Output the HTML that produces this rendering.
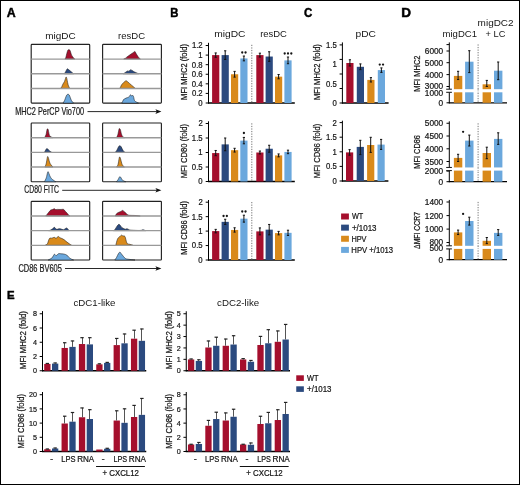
<!DOCTYPE html>
<html><head><meta charset="utf-8"><style>
html,body{margin:0;padding:0;background:#fff;width:520px;height:485px;overflow:hidden}
svg{display:block;font-family:"Liberation Sans", sans-serif} text{stroke:#151515;stroke-width:0.22px} svg{will-change:transform}
</style></head><body>
<svg width="520" height="485" viewBox="0 0 520 485">
<rect width="520" height="485" fill="#fff"/>
<rect x="0.5" y="0.5" width="519" height="484" fill="none" stroke="#000" stroke-width="1"/>
<text x="6.69" y="16.50" font-size="12.06" font-weight="bold" style="stroke:#000;stroke-width:0.45px" fill="#000" textLength="8.93" lengthAdjust="spacingAndGlyphs">A</text>
<text x="170.24" y="16.60" font-size="12.21" font-weight="bold" style="stroke:#000;stroke-width:0.45px" fill="#000" textLength="8.17" lengthAdjust="spacingAndGlyphs">B</text>
<text x="303.93" y="16.90" font-size="12.35" font-weight="bold" style="stroke:#000;stroke-width:0.45px" fill="#000" textLength="8.28" lengthAdjust="spacingAndGlyphs">C</text>
<text x="401.39" y="16.90" font-size="12.06" font-weight="bold" style="stroke:#000;stroke-width:0.45px" fill="#000" textLength="9.77" lengthAdjust="spacingAndGlyphs">D</text>
<text x="7.04" y="298.70" font-size="11.63" font-weight="bold" style="stroke:#000;stroke-width:0.45px" fill="#000" textLength="7.61" lengthAdjust="spacingAndGlyphs">E</text>
<text x="45.19" y="39.20" font-size="9.59" style="stroke:none" fill="#151515" textLength="30.39" lengthAdjust="spacingAndGlyphs">migDC</text>
<text x="118.07" y="39.20" font-size="9.59" style="stroke:none" fill="#151515" textLength="27.00" lengthAdjust="spacingAndGlyphs">resDC</text>
<rect x="31.2" y="44.4" width="58.50" height="58.72" rx="0.8" fill="#fff" stroke="#222" stroke-width="1.15"/>
<path d="M64.90,59.08 L64.90,59.08 C65.06,58.81 65.46,58.57 65.80,57.58 C66.14,56.59 66.44,54.89 66.80,53.58 C67.16,52.27 67.44,50.98 67.80,50.28 C68.16,49.58 68.44,49.72 68.80,49.68 C69.16,49.64 69.48,49.65 69.80,50.08 C70.12,50.51 70.29,51.22 70.60,52.08 C70.91,52.94 71.16,54.09 71.50,54.88 C71.84,55.67 72.14,55.90 72.50,56.48 C72.86,57.06 73.09,57.61 73.50,58.08 C73.91,58.55 74.57,58.90 74.80,59.08 L74.80,59.08 Z" fill="#a50f2d" stroke="#1a1a1a" stroke-width="0.55" stroke-linejoin="round"/>
<line x1="31.20" y1="59.08" x2="89.70" y2="59.08" stroke="#999" stroke-width="1.4" />
<path d="M64.30,73.76 L64.30,73.76 C64.52,73.44 65.10,72.64 65.50,71.96 C65.90,71.28 66.16,70.54 66.50,69.96 C66.84,69.38 67.04,68.83 67.40,68.76 C67.76,68.69 68.03,69.20 68.50,69.56 C68.97,69.92 69.46,70.33 70.00,70.76 C70.54,71.19 70.85,71.42 71.50,71.96 C72.15,72.50 73.22,73.44 73.60,73.76 L73.60,73.76 Z" fill="#2b4a7f" stroke="#1a1a1a" stroke-width="0.55" stroke-linejoin="round"/>
<line x1="31.20" y1="73.76" x2="89.70" y2="73.76" stroke="#999" stroke-width="1.4" />
<path d="M60.60,88.44 L60.60,88.44 C60.82,88.12 61.37,87.45 61.80,86.64 C62.23,85.83 62.51,84.88 63.00,83.94 C63.49,83.00 64.05,82.43 64.50,81.44 C64.95,80.45 65.21,79.25 65.50,78.44 C65.79,77.63 65.87,76.94 66.10,76.94 C66.33,76.94 66.53,77.45 66.80,78.44 C67.07,79.43 67.29,81.09 67.60,82.44 C67.91,83.79 68.09,84.86 68.50,85.94 C68.91,87.02 69.61,87.99 69.85,88.44 L69.85,88.44 Z" fill="#d98a1b" stroke="#1a1a1a" stroke-width="0.55" stroke-linejoin="round"/>
<line x1="31.20" y1="88.44" x2="89.70" y2="88.44" stroke="#999" stroke-width="1.4" />
<path d="M63.00,103.12 L63.00,103.12 C63.27,102.67 64.00,101.70 64.50,100.62 C65.00,99.54 65.39,98.15 65.80,97.12 C66.21,96.09 66.40,95.42 66.80,94.92 C67.20,94.42 67.57,94.32 68.00,94.32 C68.43,94.32 68.79,94.33 69.20,94.92 C69.61,95.51 69.89,96.59 70.30,97.62 C70.71,98.65 70.91,99.63 71.50,100.62 C72.09,101.61 73.22,102.67 73.60,103.12 L73.60,103.12 Z" fill="#6ba8dd" stroke="#1a1a1a" stroke-width="0.55" stroke-linejoin="round"/>
<rect x="102.6" y="44.4" width="58.80" height="58.72" rx="0.8" fill="#fff" stroke="#222" stroke-width="1.15"/>
<path d="M123.70,59.08 L123.70,59.08 C124.02,58.92 124.91,58.58 125.50,58.18 C126.09,57.78 126.37,57.37 127.00,56.88 C127.63,56.39 128.28,55.98 129.00,55.48 C129.72,54.98 130.28,54.57 131.00,54.08 C131.72,53.59 132.32,53.25 133.00,52.78 C133.68,52.31 134.33,51.52 134.80,51.48 C135.27,51.44 135.20,51.93 135.60,52.58 C136.00,53.23 136.39,54.13 137.00,55.08 C137.61,56.03 138.39,57.16 139.00,57.88 C139.61,58.60 140.15,58.86 140.40,59.08 L140.40,59.08 Z" fill="#a50f2d" stroke="#1a1a1a" stroke-width="0.55" stroke-linejoin="round"/>
<line x1="102.60" y1="59.08" x2="161.40" y2="59.08" stroke="#999" stroke-width="1.4" />
<path d="M123.40,73.76 L123.40,73.76 C123.65,73.60 124.33,73.18 124.80,72.86 C125.27,72.54 125.51,72.30 126.00,71.96 C126.49,71.62 127.00,71.10 127.50,70.96 C128.00,70.82 128.35,71.30 128.80,71.16 C129.25,71.02 129.62,70.43 130.00,70.16 C130.38,69.89 130.54,69.59 130.90,69.66 C131.26,69.73 131.68,70.36 132.00,70.56 C132.32,70.76 132.41,70.60 132.70,70.76 C132.99,70.92 133.26,71.24 133.60,71.46 C133.94,71.68 134.08,71.71 134.60,71.96 C135.12,72.21 135.80,72.54 136.50,72.86 C137.20,73.18 138.14,73.60 138.50,73.76 L138.50,73.76 Z" fill="#2b4a7f" stroke="#1a1a1a" stroke-width="0.55" stroke-linejoin="round"/>
<line x1="102.60" y1="73.76" x2="161.40" y2="73.76" stroke="#999" stroke-width="1.4" />
<path d="M119.70,88.44 L119.70,88.44 C119.86,88.17 120.28,87.57 120.60,86.94 C120.92,86.31 120.98,85.71 121.50,84.94 C122.02,84.17 122.83,83.31 123.50,82.64 C124.17,81.97 124.73,81.58 125.20,81.24 C125.67,80.90 125.69,80.67 126.10,80.74 C126.51,80.81 126.89,81.15 127.50,81.64 C128.11,82.13 128.78,82.81 129.50,83.44 C130.22,84.07 130.78,84.53 131.50,85.14 C132.22,85.75 132.80,86.25 133.50,86.84 C134.20,87.43 135.06,88.15 135.40,88.44 L135.40,88.44 Z" fill="#d98a1b" stroke="#1a1a1a" stroke-width="0.55" stroke-linejoin="round"/>
<line x1="102.60" y1="88.44" x2="161.40" y2="88.44" stroke="#999" stroke-width="1.4" />
<path d="M121.80,103.12 L121.80,103.12 C121.96,102.80 122.39,101.95 122.70,101.32 C123.01,100.69 123.12,100.07 123.50,99.62 C123.88,99.17 124.35,99.09 124.80,98.82 C125.25,98.55 125.51,98.34 126.00,98.12 C126.49,97.90 126.96,97.84 127.50,97.62 C128.04,97.40 128.46,97.44 129.00,96.92 C129.54,96.40 130.05,94.92 130.50,94.72 C130.95,94.52 131.05,95.68 131.50,95.82 C131.95,95.96 132.59,95.20 133.00,95.52 C133.41,95.84 133.53,96.72 133.80,97.62 C134.07,98.52 134.01,99.71 134.50,100.52 C134.99,101.33 135.78,101.65 136.50,102.12 C137.22,102.59 138.14,102.94 138.50,103.12 L138.50,103.12 Z" fill="#6ba8dd" stroke="#1a1a1a" stroke-width="0.55" stroke-linejoin="round"/>
<rect x="31.2" y="123.0" width="58.50" height="58.72" rx="0.8" fill="#fff" stroke="#222" stroke-width="1.15"/>
<path d="M44.50,137.68 L44.50,137.68 C44.77,137.14 45.55,136.12 46.00,134.68 C46.45,133.24 46.73,130.72 47.00,129.68 C47.27,128.64 47.28,128.88 47.50,128.88 C47.72,128.88 47.93,128.82 48.20,129.68 C48.47,130.54 48.68,132.51 49.00,133.68 C49.32,134.85 49.28,135.46 50.00,136.18 C50.72,136.90 52.46,137.41 53.00,137.68 L53.00,137.68 Z" fill="#a50f2d" stroke="#1a1a1a" stroke-width="0.55" stroke-linejoin="round"/>
<line x1="31.20" y1="137.68" x2="89.70" y2="137.68" stroke="#999" stroke-width="1.4" />
<path d="M44.50,152.36 L44.50,152.36 C44.68,152.00 45.09,151.04 45.50,150.36 C45.91,149.68 46.35,148.74 46.80,148.56 C47.25,148.38 47.51,148.95 48.00,149.36 C48.49,149.77 48.83,150.32 49.50,150.86 C50.17,151.40 51.30,152.09 51.70,152.36 L51.70,152.36 Z" fill="#2b4a7f" stroke="#1a1a1a" stroke-width="0.55" stroke-linejoin="round"/>
<line x1="31.20" y1="152.36" x2="89.70" y2="152.36" stroke="#999" stroke-width="1.4" />
<path d="M44.90,167.04 L44.90,167.04 C45.13,166.41 45.77,165.25 46.20,163.54 C46.63,161.83 46.99,158.78 47.30,157.54 C47.61,156.30 47.67,156.46 47.90,156.64 C48.13,156.82 48.31,157.57 48.60,158.54 C48.89,159.51 49.10,160.96 49.50,162.04 C49.90,163.12 50.17,163.64 50.80,164.54 C51.43,165.44 52.60,166.59 53.00,167.04 L53.00,167.04 Z" fill="#d98a1b" stroke="#1a1a1a" stroke-width="0.55" stroke-linejoin="round"/>
<line x1="31.20" y1="167.04" x2="89.70" y2="167.04" stroke="#999" stroke-width="1.4" />
<path d="M44.50,181.72 L44.50,181.72 C44.82,181.00 45.76,179.34 46.30,177.72 C46.84,176.10 47.16,173.80 47.50,172.72 C47.84,171.64 47.93,171.54 48.20,171.72 C48.47,171.90 48.59,172.73 49.00,173.72 C49.41,174.71 49.87,176.18 50.50,177.22 C51.13,178.26 51.56,178.71 52.50,179.52 C53.44,180.33 55.12,181.32 55.70,181.72 L55.70,181.72 Z" fill="#6ba8dd" stroke="#1a1a1a" stroke-width="0.55" stroke-linejoin="round"/>
<rect x="102.6" y="123.0" width="58.80" height="58.72" rx="0.8" fill="#fff" stroke="#222" stroke-width="1.15"/>
<path d="M116.50,137.68 L116.50,137.68 C116.73,137.14 117.35,136.21 117.80,134.68 C118.25,133.15 118.68,130.26 119.00,129.18 C119.32,128.10 119.35,128.59 119.60,128.68 C119.85,128.77 120.06,128.69 120.40,129.68 C120.74,130.67 121.07,132.92 121.50,134.18 C121.93,135.44 122.28,136.05 122.80,136.68 C123.32,137.31 124.11,137.50 124.40,137.68 L124.40,137.68 Z" fill="#a50f2d" stroke="#1a1a1a" stroke-width="0.55" stroke-linejoin="round"/>
<line x1="102.60" y1="137.68" x2="161.40" y2="137.68" stroke="#999" stroke-width="1.4" />
<path d="M115.20,152.36 L115.20,152.36 C115.49,152.00 116.21,151.35 116.80,150.36 C117.39,149.37 117.96,147.71 118.50,146.86 C119.04,146.01 119.31,145.66 119.80,145.66 C120.29,145.66 120.62,146.01 121.20,146.86 C121.78,147.71 122.35,149.37 123.00,150.36 C123.65,151.35 124.48,152.00 124.80,152.36 L124.80,152.36 Z" fill="#2b4a7f" stroke="#1a1a1a" stroke-width="0.55" stroke-linejoin="round"/>
<line x1="102.60" y1="152.36" x2="161.40" y2="152.36" stroke="#999" stroke-width="1.4" />
<path d="M116.50,167.04 L116.50,167.04 C116.77,166.59 117.51,166.16 118.00,164.54 C118.49,162.92 118.88,159.39 119.20,158.04 C119.52,156.69 119.57,156.95 119.80,157.04 C120.03,157.13 120.14,157.37 120.50,158.54 C120.86,159.71 121.35,162.23 121.80,163.54 C122.25,164.85 122.53,165.21 123.00,165.84 C123.47,166.47 124.15,166.82 124.40,167.04 L124.40,167.04 Z" fill="#d98a1b" stroke="#1a1a1a" stroke-width="0.55" stroke-linejoin="round"/>
<line x1="102.60" y1="167.04" x2="161.40" y2="167.04" stroke="#999" stroke-width="1.4" />
<path d="M116.50,181.72 L116.50,181.72 C116.77,181.36 117.50,180.53 118.00,179.72 C118.50,178.91 118.94,177.76 119.30,177.22 C119.66,176.68 119.69,176.63 120.00,176.72 C120.31,176.81 120.55,177.09 121.00,177.72 C121.45,178.35 121.65,179.50 122.50,180.22 C123.35,180.94 125.12,181.45 125.70,181.72 L125.70,181.72 Z" fill="#6ba8dd" stroke="#1a1a1a" stroke-width="0.55" stroke-linejoin="round"/>
<rect x="31.2" y="201.3" width="58.50" height="58.72" rx="0.8" fill="#fff" stroke="#222" stroke-width="1.15"/>
<path d="M45.70,215.98 L45.70,215.98 C45.93,215.71 46.41,215.20 47.00,214.48 C47.59,213.76 48.33,212.77 49.00,211.98 C49.67,211.19 50.07,210.53 50.70,210.08 C51.33,209.63 51.83,209.71 52.50,209.48 C53.17,209.25 53.84,208.76 54.40,208.78 C54.96,208.80 55.04,209.47 55.60,209.58 C56.16,209.69 56.71,209.40 57.50,209.38 C58.29,209.36 59.19,209.48 60.00,209.48 C60.81,209.48 61.33,209.38 62.00,209.38 C62.67,209.38 63.07,209.10 63.70,209.48 C64.33,209.86 64.83,210.76 65.50,211.48 C66.17,212.20 66.86,212.85 67.40,213.48 C67.94,214.11 68.07,214.53 68.50,214.98 C68.93,215.43 69.57,215.80 69.80,215.98 L69.80,215.98 Z" fill="#a50f2d" stroke="#1a1a1a" stroke-width="0.55" stroke-linejoin="round"/>
<line x1="31.20" y1="215.98" x2="89.70" y2="215.98" stroke="#999" stroke-width="1.4" />
<path d="M48.80,230.66 L48.80,230.66 C49.11,230.55 49.83,230.38 50.50,230.06 C51.17,229.74 51.80,229.35 52.50,228.86 C53.20,228.37 53.86,227.43 54.40,227.36 C54.94,227.29 55.05,228.10 55.50,228.46 C55.95,228.82 56.36,229.29 56.90,229.36 C57.44,229.43 57.94,228.99 58.50,228.86 C59.06,228.73 59.37,228.57 60.00,228.66 C60.63,228.75 61.33,229.18 62.00,229.36 C62.67,229.54 63.12,229.79 63.70,229.66 C64.28,229.53 64.65,228.97 65.20,228.66 C65.75,228.35 66.25,227.85 66.75,227.96 C67.25,228.07 67.56,228.77 68.00,229.26 C68.44,229.75 68.98,230.41 69.20,230.66 L69.20,230.66 Z" fill="#2b4a7f" stroke="#1a1a1a" stroke-width="0.55" stroke-linejoin="round"/>
<line x1="31.20" y1="230.66" x2="89.70" y2="230.66" stroke="#999" stroke-width="1.4" />
<path d="M45.10,245.34 L45.10,245.34 C45.35,245.20 46.05,244.90 46.50,244.54 C46.95,244.18 47.08,244.42 47.60,243.34 C48.12,242.26 48.70,239.48 49.40,238.54 C50.10,237.60 50.85,238.28 51.50,238.14 C52.15,238.00 52.48,237.88 53.00,237.74 C53.52,237.60 53.82,237.23 54.40,237.34 C54.98,237.45 55.53,238.50 56.20,238.34 C56.87,238.18 57.42,236.55 58.10,236.44 C58.78,236.33 59.30,237.36 60.00,237.74 C60.70,238.12 61.23,238.16 62.00,238.54 C62.77,238.92 63.58,239.34 64.30,239.84 C65.02,240.34 65.33,240.80 66.00,241.34 C66.67,241.88 67.28,242.30 68.00,242.84 C68.72,243.38 69.33,243.89 70.00,244.34 C70.67,244.79 71.39,245.16 71.70,245.34 L71.70,245.34 Z" fill="#d98a1b" stroke="#1a1a1a" stroke-width="0.55" stroke-linejoin="round"/>
<line x1="31.20" y1="245.34" x2="89.70" y2="245.34" stroke="#999" stroke-width="1.4" />
<path d="M48.20,260.02 L48.20,260.02 C48.52,259.86 49.33,259.48 50.00,259.12 C50.67,258.76 51.32,258.58 51.90,258.02 C52.48,257.46 52.75,256.70 53.20,256.02 C53.65,255.34 53.86,254.31 54.40,254.22 C54.94,254.13 55.43,255.63 56.20,255.52 C56.97,255.41 57.84,253.93 58.70,253.62 C59.56,253.31 60.10,253.75 61.00,253.82 C61.90,253.89 62.67,253.80 63.70,254.02 C64.73,254.24 65.89,254.48 66.75,255.02 C67.61,255.56 67.83,256.39 68.50,257.02 C69.17,257.65 69.87,258.09 70.50,258.52 C71.13,258.95 71.44,259.15 72.00,259.42 C72.56,259.69 73.31,259.91 73.60,260.02 L73.60,260.02 Z" fill="#6ba8dd" stroke="#1a1a1a" stroke-width="0.55" stroke-linejoin="round"/>
<rect x="102.6" y="201.3" width="58.80" height="58.72" rx="0.8" fill="#fff" stroke="#222" stroke-width="1.15"/>
<path d="M115.20,215.98 L115.20,215.98 C115.49,215.53 116.12,214.16 116.80,213.48 C117.48,212.80 118.24,212.54 119.00,212.18 C119.76,211.82 120.39,211.80 121.00,211.48 C121.61,211.16 121.86,210.38 122.40,210.38 C122.94,210.38 123.35,210.98 124.00,211.48 C124.65,211.98 125.28,212.55 126.00,213.18 C126.72,213.81 127.10,214.58 128.00,214.98 C128.90,215.38 129.74,215.29 131.00,215.38 C132.26,215.47 133.34,215.37 135.00,215.48 C136.66,215.59 139.26,215.89 140.20,215.98 L140.20,215.98 Z" fill="#a50f2d" stroke="#1a1a1a" stroke-width="0.55" stroke-linejoin="round"/>
<line x1="102.60" y1="215.98" x2="161.40" y2="215.98" stroke="#999" stroke-width="1.4" />
<path d="M113.80,230.66 L113.80,230.66 C114.05,230.39 114.62,229.97 115.20,229.16 C115.78,228.35 116.33,227.02 117.00,226.16 C117.67,225.30 118.27,224.45 118.90,224.36 C119.53,224.27 119.94,225.07 120.50,225.66 C121.06,226.25 121.37,227.12 122.00,227.66 C122.63,228.20 123.37,228.39 124.00,228.66 C124.63,228.93 124.96,229.16 125.50,229.16 C126.04,229.16 126.37,228.57 127.00,228.66 C127.63,228.75 128.17,229.39 129.00,229.66 C129.83,229.93 129.62,230.02 131.60,230.16 C133.58,230.30 137.95,230.51 140.00,230.46 C142.05,230.41 142.01,229.82 143.00,229.86 C143.99,229.90 145.05,230.52 145.50,230.66 L145.50,230.66 Z" fill="#2b4a7f" stroke="#1a1a1a" stroke-width="0.55" stroke-linejoin="round"/>
<line x1="102.60" y1="230.66" x2="161.40" y2="230.66" stroke="#999" stroke-width="1.4" />
<path d="M115.80,245.34 L115.80,245.34 C115.93,244.80 116.16,243.55 116.50,242.34 C116.84,241.13 117.16,239.63 117.70,238.64 C118.24,237.65 118.82,237.47 119.50,236.84 C120.18,236.21 120.87,235.28 121.50,235.14 C122.13,235.00 122.51,235.91 123.00,236.04 C123.49,236.17 123.79,235.61 124.20,235.84 C124.61,236.07 124.92,236.35 125.30,237.34 C125.68,238.33 125.90,240.19 126.30,241.34 C126.70,242.49 126.83,243.20 127.50,243.74 C128.17,244.28 129.01,244.05 130.00,244.34 C130.99,244.63 132.46,245.16 133.00,245.34 L133.00,245.34 Z" fill="#d98a1b" stroke="#1a1a1a" stroke-width="0.55" stroke-linejoin="round"/>
<line x1="102.60" y1="245.34" x2="161.40" y2="245.34" stroke="#999" stroke-width="1.4" />
<path d="M114.80,260.02 L114.80,260.02 C115.11,259.57 115.83,258.69 116.50,257.52 C117.17,256.35 117.87,254.47 118.50,253.52 C119.13,252.57 119.46,252.13 120.00,252.22 C120.54,252.31 120.87,253.25 121.50,254.02 C122.13,254.79 122.78,255.71 123.50,256.52 C124.22,257.33 124.64,258.03 125.50,258.52 C126.36,259.01 126.59,258.95 128.30,259.22 C130.01,259.49 133.79,259.88 135.00,260.02 L135.00,260.02 Z" fill="#6ba8dd" stroke="#1a1a1a" stroke-width="0.55" stroke-linejoin="round"/>
<text x="15.20" y="114.60" font-size="10.03" fill="#222" textLength="68.88" lengthAdjust="spacingAndGlyphs">MHC2 PerCP Vio700</text>
<line x1="87.50" y1="111.60" x2="157.40" y2="111.60" stroke="#111" stroke-width="0.9" />
<path d="M161.4,111.6 L155.4,109.3 L156.8,111.6 L155.4,113.89999999999999 Z" fill="#111"/>
<text x="24.35" y="193.10" font-size="10.03" fill="#222" textLength="34.71" lengthAdjust="spacingAndGlyphs">CD80 FITC</text>
<line x1="62.20" y1="190.30" x2="157.40" y2="190.30" stroke="#111" stroke-width="0.9" />
<path d="M161.4,190.3 L155.4,188.0 L156.8,190.3 L155.4,192.60000000000002 Z" fill="#111"/>
<text x="18.42" y="271.50" font-size="10.17" fill="#222" textLength="43.49" lengthAdjust="spacingAndGlyphs">CD86 BV605</text>
<line x1="65.00" y1="268.50" x2="157.40" y2="268.50" stroke="#111" stroke-width="0.9" />
<path d="M161.4,268.5 L155.4,266.2 L156.8,268.5 L155.4,270.8 Z" fill="#111"/>
<text x="214.22" y="36.80" font-size="9.59" style="stroke:none" fill="#151515" textLength="31.27" lengthAdjust="spacingAndGlyphs">migDC</text>
<text x="260.17" y="36.80" font-size="9.59" style="stroke:none" fill="#151515" textLength="26.79" lengthAdjust="spacingAndGlyphs">resDC</text>
<line x1="208.50" y1="42.80" x2="208.50" y2="103.50" stroke="#000" stroke-width="1.0" />
<line x1="208.00" y1="103.00" x2="294.80" y2="103.00" stroke="#000" stroke-width="1.3" />
<line x1="205.70" y1="103.00" x2="208.50" y2="103.00" stroke="#000" stroke-width="1.0" />
<line x1="205.70" y1="93.42" x2="208.50" y2="93.42" stroke="#000" stroke-width="1.0" />
<line x1="205.70" y1="83.84" x2="208.50" y2="83.84" stroke="#000" stroke-width="1.0" />
<line x1="205.70" y1="74.26" x2="208.50" y2="74.26" stroke="#000" stroke-width="1.0" />
<line x1="205.70" y1="64.68" x2="208.50" y2="64.68" stroke="#000" stroke-width="1.0" />
<line x1="205.70" y1="55.10" x2="208.50" y2="55.10" stroke="#000" stroke-width="1.0" />
<line x1="205.70" y1="45.52" x2="208.50" y2="45.52" stroke="#000" stroke-width="1.0" />
<text x="198.29" y="105.90" font-size="8.43" fill="#151515" textLength="4.31" lengthAdjust="spacingAndGlyphs">0</text>
<text x="191.91" y="96.32" font-size="8.43" fill="#151515" textLength="10.78" lengthAdjust="spacingAndGlyphs">0.2</text>
<text x="191.75" y="86.74" font-size="8.43" fill="#151515" textLength="10.78" lengthAdjust="spacingAndGlyphs">0.4</text>
<text x="191.86" y="77.16" font-size="8.43" fill="#151515" textLength="10.78" lengthAdjust="spacingAndGlyphs">0.6</text>
<text x="191.86" y="67.58" font-size="8.43" fill="#151515" textLength="10.78" lengthAdjust="spacingAndGlyphs">0.8</text>
<text x="198.37" y="58.00" font-size="8.43" fill="#151515" textLength="4.31" lengthAdjust="spacingAndGlyphs">1</text>
<text x="191.91" y="48.42" font-size="8.43" fill="#151515" textLength="10.78" lengthAdjust="spacingAndGlyphs">1.2</text>
<line x1="251.8" y1="44.80" x2="251.8" y2="103.00" stroke="#777" stroke-width="1" stroke-dasharray="1.25,1.3"/>
<rect x="212.10" y="55.10" width="7.20" height="47.90" fill="#a50f2d"/>
<rect x="221.60" y="55.10" width="7.20" height="47.90" fill="#2b4a7f"/>
<rect x="231.00" y="74.26" width="7.20" height="28.74" fill="#d98a1b"/>
<rect x="240.30" y="58.45" width="7.20" height="44.55" fill="#6ba8dd"/>
<rect x="256.30" y="55.10" width="7.20" height="47.90" fill="#a50f2d"/>
<rect x="265.60" y="56.54" width="7.20" height="46.46" fill="#2b4a7f"/>
<rect x="275.00" y="76.66" width="7.20" height="26.34" fill="#d98a1b"/>
<rect x="284.40" y="60.37" width="7.20" height="42.63" fill="#6ba8dd"/>
<line x1="215.70" y1="52.94" x2="215.70" y2="57.26" stroke="#111" stroke-width="1.0" />
<line x1="214.60" y1="52.94" x2="216.80" y2="52.94" stroke="#111" stroke-width="1.0" />
<line x1="214.60" y1="57.26" x2="216.80" y2="57.26" stroke="#111" stroke-width="1.0" />
<line x1="225.20" y1="50.79" x2="225.20" y2="59.41" stroke="#111" stroke-width="1.0" />
<line x1="224.10" y1="50.79" x2="226.30" y2="50.79" stroke="#111" stroke-width="1.0" />
<line x1="224.10" y1="59.41" x2="226.30" y2="59.41" stroke="#111" stroke-width="1.0" />
<line x1="234.60" y1="71.39" x2="234.60" y2="77.13" stroke="#111" stroke-width="1.0" />
<line x1="233.50" y1="71.39" x2="235.70" y2="71.39" stroke="#111" stroke-width="1.0" />
<line x1="233.50" y1="77.13" x2="235.70" y2="77.13" stroke="#111" stroke-width="1.0" />
<line x1="243.90" y1="56.06" x2="243.90" y2="60.85" stroke="#111" stroke-width="1.0" />
<line x1="242.80" y1="56.06" x2="245.00" y2="56.06" stroke="#111" stroke-width="1.0" />
<line x1="242.80" y1="60.85" x2="245.00" y2="60.85" stroke="#111" stroke-width="1.0" />
<line x1="259.90" y1="53.18" x2="259.90" y2="57.02" stroke="#111" stroke-width="1.0" />
<line x1="258.80" y1="53.18" x2="261.00" y2="53.18" stroke="#111" stroke-width="1.0" />
<line x1="258.80" y1="57.02" x2="261.00" y2="57.02" stroke="#111" stroke-width="1.0" />
<line x1="269.20" y1="51.75" x2="269.20" y2="61.33" stroke="#111" stroke-width="1.0" />
<line x1="268.10" y1="51.75" x2="270.30" y2="51.75" stroke="#111" stroke-width="1.0" />
<line x1="268.10" y1="61.33" x2="270.30" y2="61.33" stroke="#111" stroke-width="1.0" />
<line x1="278.60" y1="74.50" x2="278.60" y2="78.81" stroke="#111" stroke-width="1.0" />
<line x1="277.50" y1="74.50" x2="279.70" y2="74.50" stroke="#111" stroke-width="1.0" />
<line x1="277.50" y1="78.81" x2="279.70" y2="78.81" stroke="#111" stroke-width="1.0" />
<line x1="288.00" y1="57.02" x2="288.00" y2="63.72" stroke="#111" stroke-width="1.0" />
<line x1="286.90" y1="57.02" x2="289.10" y2="57.02" stroke="#111" stroke-width="1.0" />
<line x1="286.90" y1="63.72" x2="289.10" y2="63.72" stroke="#111" stroke-width="1.0" />
<circle cx="242.25" cy="52.50" r="1.15" fill="#151515"/>
<circle cx="245.55" cy="52.50" r="1.15" fill="#151515"/>
<circle cx="284.70" cy="53.50" r="1.15" fill="#151515"/>
<circle cx="288.00" cy="53.50" r="1.15" fill="#151515"/>
<circle cx="291.30" cy="53.50" r="1.15" fill="#151515"/>
<text transform="translate(186.60,99.30) rotate(-90)" x="-0.62" y="0" font-size="8.43" fill="#151515" textLength="55.89" lengthAdjust="spacingAndGlyphs">MFI MHC2 (fold)</text>
<line x1="208.50" y1="121.30" x2="208.50" y2="182.00" stroke="#000" stroke-width="1.0" />
<line x1="208.00" y1="181.50" x2="294.80" y2="181.50" stroke="#000" stroke-width="1.3" />
<line x1="205.70" y1="181.50" x2="208.50" y2="181.50" stroke="#000" stroke-width="1.0" />
<line x1="205.70" y1="167.00" x2="208.50" y2="167.00" stroke="#000" stroke-width="1.0" />
<line x1="205.70" y1="152.50" x2="208.50" y2="152.50" stroke="#000" stroke-width="1.0" />
<line x1="205.70" y1="138.00" x2="208.50" y2="138.00" stroke="#000" stroke-width="1.0" />
<line x1="205.70" y1="123.50" x2="208.50" y2="123.50" stroke="#000" stroke-width="1.0" />
<text x="198.29" y="184.40" font-size="8.43" fill="#151515" textLength="4.31" lengthAdjust="spacingAndGlyphs">0</text>
<text x="191.84" y="169.90" font-size="8.43" fill="#151515" textLength="10.78" lengthAdjust="spacingAndGlyphs">0.5</text>
<text x="198.37" y="155.40" font-size="8.43" fill="#151515" textLength="4.31" lengthAdjust="spacingAndGlyphs">1</text>
<text x="191.84" y="140.90" font-size="8.43" fill="#151515" textLength="10.78" lengthAdjust="spacingAndGlyphs">1.5</text>
<text x="198.38" y="126.40" font-size="8.43" fill="#151515" textLength="4.31" lengthAdjust="spacingAndGlyphs">2</text>
<line x1="251.8" y1="123.30" x2="251.8" y2="181.50" stroke="#777" stroke-width="1" stroke-dasharray="1.25,1.3"/>
<rect x="212.10" y="153.08" width="7.20" height="28.42" fill="#a50f2d"/>
<rect x="221.60" y="144.38" width="7.20" height="37.12" fill="#2b4a7f"/>
<rect x="231.00" y="150.18" width="7.20" height="31.32" fill="#d98a1b"/>
<rect x="240.30" y="140.61" width="7.20" height="40.89" fill="#6ba8dd"/>
<rect x="256.30" y="152.50" width="7.20" height="29.00" fill="#a50f2d"/>
<rect x="265.60" y="148.73" width="7.20" height="32.77" fill="#2b4a7f"/>
<rect x="275.00" y="155.40" width="7.20" height="26.10" fill="#d98a1b"/>
<rect x="284.40" y="151.92" width="7.20" height="29.58" fill="#6ba8dd"/>
<line x1="215.70" y1="150.47" x2="215.70" y2="155.69" stroke="#111" stroke-width="1.0" />
<line x1="214.60" y1="150.47" x2="216.80" y2="150.47" stroke="#111" stroke-width="1.0" />
<line x1="214.60" y1="155.69" x2="216.80" y2="155.69" stroke="#111" stroke-width="1.0" />
<line x1="225.20" y1="138.00" x2="225.20" y2="150.76" stroke="#111" stroke-width="1.0" />
<line x1="224.10" y1="138.00" x2="226.30" y2="138.00" stroke="#111" stroke-width="1.0" />
<line x1="224.10" y1="150.76" x2="226.30" y2="150.76" stroke="#111" stroke-width="1.0" />
<line x1="234.60" y1="148.30" x2="234.60" y2="152.06" stroke="#111" stroke-width="1.0" />
<line x1="233.50" y1="148.30" x2="235.70" y2="148.30" stroke="#111" stroke-width="1.0" />
<line x1="233.50" y1="152.06" x2="235.70" y2="152.06" stroke="#111" stroke-width="1.0" />
<line x1="243.90" y1="137.42" x2="243.90" y2="143.80" stroke="#111" stroke-width="1.0" />
<line x1="242.80" y1="137.42" x2="245.00" y2="137.42" stroke="#111" stroke-width="1.0" />
<line x1="242.80" y1="143.80" x2="245.00" y2="143.80" stroke="#111" stroke-width="1.0" />
<line x1="259.90" y1="151.05" x2="259.90" y2="153.95" stroke="#111" stroke-width="1.0" />
<line x1="258.80" y1="151.05" x2="261.00" y2="151.05" stroke="#111" stroke-width="1.0" />
<line x1="258.80" y1="153.95" x2="261.00" y2="153.95" stroke="#111" stroke-width="1.0" />
<line x1="269.20" y1="145.25" x2="269.20" y2="152.21" stroke="#111" stroke-width="1.0" />
<line x1="268.10" y1="145.25" x2="270.30" y2="145.25" stroke="#111" stroke-width="1.0" />
<line x1="268.10" y1="152.21" x2="270.30" y2="152.21" stroke="#111" stroke-width="1.0" />
<line x1="278.60" y1="153.95" x2="278.60" y2="156.85" stroke="#111" stroke-width="1.0" />
<line x1="277.50" y1="153.95" x2="279.70" y2="153.95" stroke="#111" stroke-width="1.0" />
<line x1="277.50" y1="156.85" x2="279.70" y2="156.85" stroke="#111" stroke-width="1.0" />
<line x1="288.00" y1="150.18" x2="288.00" y2="153.66" stroke="#111" stroke-width="1.0" />
<line x1="286.90" y1="150.18" x2="289.10" y2="150.18" stroke="#111" stroke-width="1.0" />
<line x1="286.90" y1="153.66" x2="289.10" y2="153.66" stroke="#111" stroke-width="1.0" />
<circle cx="243.90" cy="133.00" r="1.15" fill="#151515"/>
<text transform="translate(186.60,177.70) rotate(-90)" x="-0.63" y="0" font-size="8.43" fill="#151515" textLength="54.50" lengthAdjust="spacingAndGlyphs">MFI CD80 (fold)</text>
<line x1="208.50" y1="200.00" x2="208.50" y2="260.50" stroke="#000" stroke-width="1.0" />
<line x1="208.00" y1="260.00" x2="294.80" y2="260.00" stroke="#000" stroke-width="1.3" />
<line x1="205.70" y1="260.00" x2="208.50" y2="260.00" stroke="#000" stroke-width="1.0" />
<line x1="205.70" y1="245.55" x2="208.50" y2="245.55" stroke="#000" stroke-width="1.0" />
<line x1="205.70" y1="231.10" x2="208.50" y2="231.10" stroke="#000" stroke-width="1.0" />
<line x1="205.70" y1="216.65" x2="208.50" y2="216.65" stroke="#000" stroke-width="1.0" />
<line x1="205.70" y1="202.20" x2="208.50" y2="202.20" stroke="#000" stroke-width="1.0" />
<text x="198.29" y="262.90" font-size="8.43" fill="#151515" textLength="4.31" lengthAdjust="spacingAndGlyphs">0</text>
<text x="191.84" y="248.45" font-size="8.43" fill="#151515" textLength="10.78" lengthAdjust="spacingAndGlyphs">0.5</text>
<text x="198.37" y="234.00" font-size="8.43" fill="#151515" textLength="4.31" lengthAdjust="spacingAndGlyphs">1</text>
<text x="191.84" y="219.55" font-size="8.43" fill="#151515" textLength="10.78" lengthAdjust="spacingAndGlyphs">1.5</text>
<text x="198.38" y="205.10" font-size="8.43" fill="#151515" textLength="4.31" lengthAdjust="spacingAndGlyphs">2</text>
<line x1="251.8" y1="202.00" x2="251.8" y2="260.00" stroke="#777" stroke-width="1" stroke-dasharray="1.25,1.3"/>
<rect x="212.10" y="231.10" width="7.20" height="28.90" fill="#a50f2d"/>
<rect x="221.60" y="221.85" width="7.20" height="38.15" fill="#2b4a7f"/>
<rect x="231.00" y="229.94" width="7.20" height="30.06" fill="#d98a1b"/>
<rect x="240.30" y="218.67" width="7.20" height="41.33" fill="#6ba8dd"/>
<rect x="256.30" y="231.39" width="7.20" height="28.61" fill="#a50f2d"/>
<rect x="265.60" y="229.66" width="7.20" height="30.34" fill="#2b4a7f"/>
<rect x="275.00" y="233.12" width="7.20" height="26.88" fill="#d98a1b"/>
<rect x="284.40" y="232.83" width="7.20" height="27.17" fill="#6ba8dd"/>
<line x1="215.70" y1="229.37" x2="215.70" y2="232.83" stroke="#111" stroke-width="1.0" />
<line x1="214.60" y1="229.37" x2="216.80" y2="229.37" stroke="#111" stroke-width="1.0" />
<line x1="214.60" y1="232.83" x2="216.80" y2="232.83" stroke="#111" stroke-width="1.0" />
<line x1="225.20" y1="219.25" x2="225.20" y2="224.45" stroke="#111" stroke-width="1.0" />
<line x1="224.10" y1="219.25" x2="226.30" y2="219.25" stroke="#111" stroke-width="1.0" />
<line x1="224.10" y1="224.45" x2="226.30" y2="224.45" stroke="#111" stroke-width="1.0" />
<line x1="234.60" y1="227.78" x2="234.60" y2="232.11" stroke="#111" stroke-width="1.0" />
<line x1="233.50" y1="227.78" x2="235.70" y2="227.78" stroke="#111" stroke-width="1.0" />
<line x1="233.50" y1="232.11" x2="235.70" y2="232.11" stroke="#111" stroke-width="1.0" />
<line x1="243.90" y1="215.21" x2="243.90" y2="222.14" stroke="#111" stroke-width="1.0" />
<line x1="242.80" y1="215.21" x2="245.00" y2="215.21" stroke="#111" stroke-width="1.0" />
<line x1="242.80" y1="222.14" x2="245.00" y2="222.14" stroke="#111" stroke-width="1.0" />
<line x1="259.90" y1="227.92" x2="259.90" y2="234.86" stroke="#111" stroke-width="1.0" />
<line x1="258.80" y1="227.92" x2="261.00" y2="227.92" stroke="#111" stroke-width="1.0" />
<line x1="258.80" y1="234.86" x2="261.00" y2="234.86" stroke="#111" stroke-width="1.0" />
<line x1="269.20" y1="224.45" x2="269.20" y2="234.86" stroke="#111" stroke-width="1.0" />
<line x1="268.10" y1="224.45" x2="270.30" y2="224.45" stroke="#111" stroke-width="1.0" />
<line x1="268.10" y1="234.86" x2="270.30" y2="234.86" stroke="#111" stroke-width="1.0" />
<line x1="278.60" y1="231.39" x2="278.60" y2="234.86" stroke="#111" stroke-width="1.0" />
<line x1="277.50" y1="231.39" x2="279.70" y2="231.39" stroke="#111" stroke-width="1.0" />
<line x1="277.50" y1="234.86" x2="279.70" y2="234.86" stroke="#111" stroke-width="1.0" />
<line x1="288.00" y1="230.23" x2="288.00" y2="235.44" stroke="#111" stroke-width="1.0" />
<line x1="286.90" y1="230.23" x2="289.10" y2="230.23" stroke="#111" stroke-width="1.0" />
<line x1="286.90" y1="235.44" x2="289.10" y2="235.44" stroke="#111" stroke-width="1.0" />
<circle cx="223.55" cy="216.00" r="1.15" fill="#151515"/>
<circle cx="226.85" cy="216.00" r="1.15" fill="#151515"/>
<circle cx="242.25" cy="211.50" r="1.15" fill="#151515"/>
<circle cx="245.55" cy="211.50" r="1.15" fill="#151515"/>
<text transform="translate(186.60,254.20) rotate(-90)" x="-0.62" y="0" font-size="8.43" fill="#151515" textLength="53.79" lengthAdjust="spacingAndGlyphs">MFI CD86 (fold)</text>
<text x="355.54" y="36.80" font-size="9.81" style="stroke:none" fill="#151515" textLength="20.45" lengthAdjust="spacingAndGlyphs">pDC</text>
<line x1="342.40" y1="42.40" x2="342.40" y2="103.50" stroke="#000" stroke-width="1.0" />
<line x1="341.90" y1="103.00" x2="388.60" y2="103.00" stroke="#000" stroke-width="1.3" />
<line x1="339.60" y1="44.90" x2="342.40" y2="44.90" stroke="#000" stroke-width="1.0" />
<line x1="339.60" y1="59.40" x2="342.40" y2="59.40" stroke="#000" stroke-width="1.0" />
<line x1="339.60" y1="74.00" x2="342.40" y2="74.00" stroke="#000" stroke-width="1.0" />
<line x1="339.60" y1="88.50" x2="342.40" y2="88.50" stroke="#000" stroke-width="1.0" />
<line x1="339.60" y1="103.00" x2="342.40" y2="103.00" stroke="#000" stroke-width="1.0" />
<text x="325.94" y="47.80" font-size="8.43" fill="#151515" textLength="10.78" lengthAdjust="spacingAndGlyphs">1.5</text>
<text x="332.47" y="66.80" font-size="8.43" fill="#151515" textLength="4.31" lengthAdjust="spacingAndGlyphs">1</text>
<text x="325.94" y="86.60" font-size="8.43" fill="#151515" textLength="10.78" lengthAdjust="spacingAndGlyphs">0.5</text>
<text x="332.39" y="105.60" font-size="8.43" fill="#151515" textLength="4.31" lengthAdjust="spacingAndGlyphs">0</text>
<rect x="346.30" y="63.00" width="7.20" height="40.00" fill="#a50f2d"/>
<rect x="356.80" y="66.80" width="7.20" height="36.20" fill="#2b4a7f"/>
<rect x="367.30" y="79.90" width="7.20" height="23.10" fill="#d98a1b"/>
<rect x="377.80" y="70.10" width="7.20" height="32.90" fill="#6ba8dd"/>
<line x1="349.90" y1="59.75" x2="349.90" y2="66.00" stroke="#111" stroke-width="1.0" />
<line x1="348.80" y1="59.75" x2="351.00" y2="59.75" stroke="#111" stroke-width="1.0" />
<line x1="348.80" y1="66.00" x2="351.00" y2="66.00" stroke="#111" stroke-width="1.0" />
<line x1="360.40" y1="63.90" x2="360.40" y2="69.65" stroke="#111" stroke-width="1.0" />
<line x1="359.30" y1="63.90" x2="361.50" y2="63.90" stroke="#111" stroke-width="1.0" />
<line x1="359.30" y1="69.65" x2="361.50" y2="69.65" stroke="#111" stroke-width="1.0" />
<line x1="370.90" y1="77.60" x2="370.90" y2="82.00" stroke="#111" stroke-width="1.0" />
<line x1="369.80" y1="77.60" x2="372.00" y2="77.60" stroke="#111" stroke-width="1.0" />
<line x1="369.80" y1="82.00" x2="372.00" y2="82.00" stroke="#111" stroke-width="1.0" />
<line x1="381.40" y1="67.90" x2="381.40" y2="72.40" stroke="#111" stroke-width="1.0" />
<line x1="380.30" y1="67.90" x2="382.50" y2="67.90" stroke="#111" stroke-width="1.0" />
<line x1="380.30" y1="72.40" x2="382.50" y2="72.40" stroke="#111" stroke-width="1.0" />
<circle cx="379.75" cy="64.60" r="1.15" fill="#151515"/>
<circle cx="383.05" cy="64.60" r="1.15" fill="#151515"/>
<text transform="translate(320.20,99.40) rotate(-90)" x="-0.62" y="0" font-size="8.58" fill="#151515" textLength="55.89" lengthAdjust="spacingAndGlyphs">MFI MHC2 (fold)</text>
<line x1="342.40" y1="120.70" x2="342.40" y2="181.50" stroke="#000" stroke-width="1.0" />
<line x1="341.90" y1="181.00" x2="388.40" y2="181.00" stroke="#000" stroke-width="1.3" />
<line x1="339.60" y1="181.00" x2="342.40" y2="181.00" stroke="#000" stroke-width="1.0" />
<text x="332.39" y="183.90" font-size="8.43" fill="#151515" textLength="4.31" lengthAdjust="spacingAndGlyphs">0</text>
<line x1="339.60" y1="166.40" x2="342.40" y2="166.40" stroke="#000" stroke-width="1.0" />
<text x="325.94" y="169.30" font-size="8.43" fill="#151515" textLength="10.78" lengthAdjust="spacingAndGlyphs">0.5</text>
<line x1="339.60" y1="151.80" x2="342.40" y2="151.80" stroke="#000" stroke-width="1.0" />
<text x="332.47" y="154.70" font-size="8.43" fill="#151515" textLength="4.31" lengthAdjust="spacingAndGlyphs">1</text>
<line x1="339.60" y1="137.20" x2="342.40" y2="137.20" stroke="#000" stroke-width="1.0" />
<text x="325.94" y="140.10" font-size="8.43" fill="#151515" textLength="10.78" lengthAdjust="spacingAndGlyphs">1.5</text>
<line x1="339.60" y1="122.60" x2="342.40" y2="122.60" stroke="#000" stroke-width="1.0" />
<text x="332.48" y="125.50" font-size="8.43" fill="#151515" textLength="4.31" lengthAdjust="spacingAndGlyphs">2</text>
<rect x="346.00" y="152.40" width="7.20" height="28.60" fill="#a50f2d"/>
<rect x="356.70" y="146.90" width="7.20" height="34.10" fill="#2b4a7f"/>
<rect x="367.10" y="145.00" width="7.20" height="36.00" fill="#d98a1b"/>
<rect x="377.50" y="144.60" width="7.20" height="36.40" fill="#6ba8dd"/>
<line x1="349.60" y1="149.60" x2="349.60" y2="155.20" stroke="#111" stroke-width="1.0" />
<line x1="348.50" y1="149.60" x2="350.70" y2="149.60" stroke="#111" stroke-width="1.0" />
<line x1="348.50" y1="155.20" x2="350.70" y2="155.20" stroke="#111" stroke-width="1.0" />
<line x1="360.30" y1="140.30" x2="360.30" y2="154.60" stroke="#111" stroke-width="1.0" />
<line x1="359.20" y1="140.30" x2="361.40" y2="140.30" stroke="#111" stroke-width="1.0" />
<line x1="359.20" y1="154.60" x2="361.40" y2="154.60" stroke="#111" stroke-width="1.0" />
<line x1="370.70" y1="137.30" x2="370.70" y2="152.40" stroke="#111" stroke-width="1.0" />
<line x1="369.60" y1="137.30" x2="371.80" y2="137.30" stroke="#111" stroke-width="1.0" />
<line x1="369.60" y1="152.40" x2="371.80" y2="152.40" stroke="#111" stroke-width="1.0" />
<line x1="381.10" y1="139.40" x2="381.10" y2="149.40" stroke="#111" stroke-width="1.0" />
<line x1="380.00" y1="139.40" x2="382.20" y2="139.40" stroke="#111" stroke-width="1.0" />
<line x1="380.00" y1="149.40" x2="382.20" y2="149.40" stroke="#111" stroke-width="1.0" />
<text transform="translate(320.20,177.50) rotate(-90)" x="-0.63" y="0" font-size="8.87" fill="#151515" textLength="54.50" lengthAdjust="spacingAndGlyphs">MFI CD86 (fold)</text>
<rect x="341.10" y="213.50" width="7.80" height="6.00" fill="#a50f2d"/>
<text x="351.97" y="219.40" font-size="8.43" fill="#151515" textLength="11.30" lengthAdjust="spacingAndGlyphs">WT</text>
<rect x="341.10" y="224.63" width="7.80" height="6.00" fill="#2b4a7f"/>
<text x="351.91" y="230.53" font-size="8.43" fill="#151515" textLength="24.59" lengthAdjust="spacingAndGlyphs">+/1013</text>
<rect x="341.10" y="235.76" width="7.80" height="6.00" fill="#d98a1b"/>
<text x="351.40" y="241.66" font-size="8.43" fill="#151515" textLength="15.14" lengthAdjust="spacingAndGlyphs">HPV</text>
<rect x="341.10" y="246.89" width="7.80" height="6.00" fill="#6ba8dd"/>
<text x="351.37" y="252.79" font-size="8.43" fill="#151515" textLength="41.77" lengthAdjust="spacingAndGlyphs">HPV +/1013</text>
<text x="442.57" y="37.40" font-size="9.59" style="stroke:none" fill="#151515" textLength="34.45" lengthAdjust="spacingAndGlyphs">migDC1</text>
<text x="477.64" y="26.00" font-size="9.59" style="stroke:none" fill="#151515" textLength="35.96" lengthAdjust="spacingAndGlyphs">migDC2</text>
<text x="485.55" y="37.40" font-size="9.59" style="stroke:none" fill="#151515" textLength="19.80" lengthAdjust="spacingAndGlyphs">+ LC</text>
<line x1="449.30" y1="42.40" x2="449.30" y2="103.30" stroke="#000" stroke-width="1.0" />
<line x1="448.80" y1="102.80" x2="507.00" y2="102.80" stroke="#000" stroke-width="1.3" />
<line x1="446.50" y1="44.60" x2="449.30" y2="44.60" stroke="#000" stroke-width="1.0" />
<line x1="446.50" y1="51.00" x2="449.30" y2="51.00" stroke="#000" stroke-width="1.0" />
<line x1="446.50" y1="62.70" x2="449.30" y2="62.70" stroke="#000" stroke-width="1.0" />
<line x1="446.50" y1="74.60" x2="449.30" y2="74.60" stroke="#000" stroke-width="1.0" />
<line x1="446.50" y1="86.50" x2="449.30" y2="86.50" stroke="#000" stroke-width="1.0" />
<line x1="446.50" y1="102.80" x2="449.30" y2="102.80" stroke="#000" stroke-width="1.0" />
<text x="424.79" y="54.00" font-size="8.72" fill="#151515" textLength="18.43" lengthAdjust="spacingAndGlyphs">6000</text>
<text x="424.79" y="65.70" font-size="8.72" fill="#151515" textLength="18.43" lengthAdjust="spacingAndGlyphs">5000</text>
<text x="424.79" y="77.60" font-size="8.72" fill="#151515" textLength="18.43" lengthAdjust="spacingAndGlyphs">4000</text>
<text x="424.79" y="89.20" font-size="8.72" fill="#151515" textLength="18.43" lengthAdjust="spacingAndGlyphs">3000</text>
<text x="424.79" y="95.75" font-size="8.72" fill="#151515" textLength="18.43" lengthAdjust="spacingAndGlyphs">1000</text>
<text x="438.62" y="105.70" font-size="8.72" fill="#151515" textLength="4.61" lengthAdjust="spacingAndGlyphs">0</text>
<line x1="478.1" y1="44.40" x2="478.1" y2="102.80" stroke="#777" stroke-width="1" stroke-dasharray="1.25,1.3"/>
<rect x="453.90" y="75.90" width="8.40" height="26.90" fill="#d98a1b"/>
<rect x="465.10" y="61.70" width="8.40" height="41.10" fill="#6ba8dd"/>
<rect x="482.60" y="84.30" width="8.40" height="18.50" fill="#d98a1b"/>
<rect x="494.00" y="70.70" width="8.40" height="32.10" fill="#6ba8dd"/>
<rect x="445" y="89.20" width="60" height="3.10" fill="#fff"/>
<rect x="448.3" y="89.20" width="2" height="3.10" fill="#fff"/>
<line x1="446.20" y1="89.20" x2="451.90" y2="89.20" stroke="#111" stroke-width="1.0" />
<line x1="446.20" y1="92.30" x2="451.90" y2="92.30" stroke="#111" stroke-width="1.0" />
<line x1="478.1" y1="89.20" x2="478.1" y2="92.30" stroke="#777" stroke-width="1" stroke-dasharray="1.25,1.3"/>
<line x1="458.10" y1="71.30" x2="458.10" y2="79.55" stroke="#111" stroke-width="1.0" />
<line x1="457.00" y1="71.30" x2="459.20" y2="71.30" stroke="#111" stroke-width="1.0" />
<line x1="457.00" y1="79.55" x2="459.20" y2="79.55" stroke="#111" stroke-width="1.0" />
<line x1="469.30" y1="50.70" x2="469.30" y2="72.60" stroke="#111" stroke-width="1.0" />
<line x1="468.20" y1="50.70" x2="470.40" y2="50.70" stroke="#111" stroke-width="1.0" />
<line x1="468.20" y1="72.60" x2="470.40" y2="72.60" stroke="#111" stroke-width="1.0" />
<line x1="486.80" y1="80.40" x2="486.80" y2="86.50" stroke="#111" stroke-width="1.0" />
<line x1="485.70" y1="80.40" x2="487.90" y2="80.40" stroke="#111" stroke-width="1.0" />
<line x1="485.70" y1="86.50" x2="487.90" y2="86.50" stroke="#111" stroke-width="1.0" />
<line x1="498.20" y1="62.00" x2="498.20" y2="79.70" stroke="#111" stroke-width="1.0" />
<line x1="497.10" y1="62.00" x2="499.30" y2="62.00" stroke="#111" stroke-width="1.0" />
<line x1="497.10" y1="79.70" x2="499.30" y2="79.70" stroke="#111" stroke-width="1.0" />
<text transform="translate(420.00,91.10) rotate(-90)" x="-0.61" y="0" font-size="9.30" fill="#151515" textLength="36.19" lengthAdjust="spacingAndGlyphs">MFI MHC2</text>
<line x1="449.30" y1="121.30" x2="449.30" y2="182.20" stroke="#000" stroke-width="1.0" />
<line x1="448.80" y1="181.70" x2="507.00" y2="181.70" stroke="#000" stroke-width="1.3" />
<line x1="446.50" y1="123.25" x2="449.30" y2="123.25" stroke="#000" stroke-width="1.0" />
<line x1="446.50" y1="136.00" x2="449.30" y2="136.00" stroke="#000" stroke-width="1.0" />
<line x1="446.50" y1="148.80" x2="449.30" y2="148.80" stroke="#000" stroke-width="1.0" />
<line x1="446.50" y1="161.50" x2="449.30" y2="161.50" stroke="#000" stroke-width="1.0" />
<line x1="446.50" y1="171.10" x2="449.30" y2="171.10" stroke="#000" stroke-width="1.0" />
<line x1="446.50" y1="181.70" x2="449.30" y2="181.70" stroke="#000" stroke-width="1.0" />
<text x="424.79" y="126.25" font-size="8.72" fill="#151515" textLength="18.43" lengthAdjust="spacingAndGlyphs">5000</text>
<text x="424.79" y="139.00" font-size="8.72" fill="#151515" textLength="18.43" lengthAdjust="spacingAndGlyphs">4500</text>
<text x="424.79" y="151.80" font-size="8.72" fill="#151515" textLength="18.43" lengthAdjust="spacingAndGlyphs">4000</text>
<text x="424.79" y="164.50" font-size="8.72" fill="#151515" textLength="18.43" lengthAdjust="spacingAndGlyphs">3500</text>
<text x="424.79" y="174.10" font-size="8.72" fill="#151515" textLength="18.43" lengthAdjust="spacingAndGlyphs">2000</text>
<text x="438.62" y="184.70" font-size="8.72" fill="#151515" textLength="4.61" lengthAdjust="spacingAndGlyphs">0</text>
<line x1="478.1" y1="123.30" x2="478.1" y2="181.70" stroke="#777" stroke-width="1" stroke-dasharray="1.25,1.3"/>
<rect x="453.90" y="157.90" width="8.40" height="23.80" fill="#d98a1b"/>
<rect x="465.10" y="140.60" width="8.40" height="41.10" fill="#6ba8dd"/>
<rect x="482.60" y="153.00" width="8.40" height="28.70" fill="#d98a1b"/>
<rect x="494.00" y="138.90" width="8.40" height="42.80" fill="#6ba8dd"/>
<rect x="445" y="167.45" width="60" height="3.15" fill="#fff"/>
<rect x="448.3" y="167.45" width="2" height="3.15" fill="#fff"/>
<line x1="446.20" y1="167.45" x2="451.90" y2="167.45" stroke="#111" stroke-width="1.0" />
<line x1="446.20" y1="170.60" x2="451.90" y2="170.60" stroke="#111" stroke-width="1.0" />
<line x1="478.1" y1="167.45" x2="478.1" y2="170.60" stroke="#777" stroke-width="1" stroke-dasharray="1.25,1.3"/>
<line x1="458.10" y1="154.30" x2="458.10" y2="161.50" stroke="#111" stroke-width="1.0" />
<line x1="457.00" y1="154.30" x2="459.20" y2="154.30" stroke="#111" stroke-width="1.0" />
<line x1="457.00" y1="161.50" x2="459.20" y2="161.50" stroke="#111" stroke-width="1.0" />
<line x1="469.30" y1="135.10" x2="469.30" y2="146.00" stroke="#111" stroke-width="1.0" />
<line x1="468.20" y1="135.10" x2="470.40" y2="135.10" stroke="#111" stroke-width="1.0" />
<line x1="468.20" y1="146.00" x2="470.40" y2="146.00" stroke="#111" stroke-width="1.0" />
<line x1="486.80" y1="147.20" x2="486.80" y2="158.70" stroke="#111" stroke-width="1.0" />
<line x1="485.70" y1="147.20" x2="487.90" y2="147.20" stroke="#111" stroke-width="1.0" />
<line x1="485.70" y1="158.70" x2="487.90" y2="158.70" stroke="#111" stroke-width="1.0" />
<line x1="498.20" y1="132.80" x2="498.20" y2="144.40" stroke="#111" stroke-width="1.0" />
<line x1="497.10" y1="132.80" x2="499.30" y2="132.80" stroke="#111" stroke-width="1.0" />
<line x1="497.10" y1="144.40" x2="499.30" y2="144.40" stroke="#111" stroke-width="1.0" />
<circle cx="463.10" cy="131.85" r="1.15" fill="#151515"/>
<text transform="translate(420.00,168.05) rotate(-90)" x="-0.60" y="0" font-size="9.30" fill="#151515" textLength="33.58" lengthAdjust="spacingAndGlyphs">MFI CD86</text>
<line x1="449.30" y1="199.90" x2="449.30" y2="260.20" stroke="#000" stroke-width="1.0" />
<line x1="448.80" y1="259.70" x2="507.00" y2="259.70" stroke="#000" stroke-width="1.3" />
<line x1="446.50" y1="202.00" x2="449.30" y2="202.00" stroke="#000" stroke-width="1.0" />
<line x1="446.50" y1="215.60" x2="449.30" y2="215.60" stroke="#000" stroke-width="1.0" />
<line x1="446.50" y1="229.10" x2="449.30" y2="229.10" stroke="#000" stroke-width="1.0" />
<line x1="446.50" y1="242.50" x2="449.30" y2="242.50" stroke="#000" stroke-width="1.0" />
<line x1="446.50" y1="248.60" x2="449.30" y2="248.60" stroke="#000" stroke-width="1.0" />
<line x1="446.50" y1="259.70" x2="449.30" y2="259.70" stroke="#000" stroke-width="1.0" />
<text x="424.79" y="205.00" font-size="8.72" fill="#151515" textLength="18.43" lengthAdjust="spacingAndGlyphs">1400</text>
<text x="424.79" y="218.60" font-size="8.72" fill="#151515" textLength="18.43" lengthAdjust="spacingAndGlyphs">1200</text>
<text x="424.79" y="232.10" font-size="8.72" fill="#151515" textLength="18.43" lengthAdjust="spacingAndGlyphs">1000</text>
<text x="429.40" y="245.00" font-size="8.72" fill="#151515" textLength="13.82" lengthAdjust="spacingAndGlyphs">800</text>
<text x="429.40" y="251.30" font-size="8.72" fill="#151515" textLength="13.82" lengthAdjust="spacingAndGlyphs">500</text>
<text x="438.62" y="262.60" font-size="8.72" fill="#151515" textLength="4.61" lengthAdjust="spacingAndGlyphs">0</text>
<line x1="478.1" y1="201.90" x2="478.1" y2="259.70" stroke="#777" stroke-width="1" stroke-dasharray="1.25,1.3"/>
<rect x="453.90" y="232.40" width="8.40" height="27.30" fill="#d98a1b"/>
<rect x="465.10" y="221.00" width="8.40" height="38.70" fill="#6ba8dd"/>
<rect x="482.60" y="240.80" width="8.40" height="18.90" fill="#d98a1b"/>
<rect x="494.00" y="232.90" width="8.40" height="26.80" fill="#6ba8dd"/>
<rect x="445" y="245.80" width="60" height="3.10" fill="#fff"/>
<rect x="448.3" y="245.80" width="2" height="3.10" fill="#fff"/>
<line x1="446.20" y1="245.80" x2="451.90" y2="245.80" stroke="#111" stroke-width="1.0" />
<line x1="446.20" y1="248.90" x2="451.90" y2="248.90" stroke="#111" stroke-width="1.0" />
<line x1="478.1" y1="245.80" x2="478.1" y2="248.90" stroke="#777" stroke-width="1" stroke-dasharray="1.25,1.3"/>
<line x1="458.10" y1="230.10" x2="458.10" y2="234.55" stroke="#111" stroke-width="1.0" />
<line x1="457.00" y1="230.10" x2="459.20" y2="230.10" stroke="#111" stroke-width="1.0" />
<line x1="457.00" y1="234.55" x2="459.20" y2="234.55" stroke="#111" stroke-width="1.0" />
<line x1="469.30" y1="217.20" x2="469.30" y2="225.10" stroke="#111" stroke-width="1.0" />
<line x1="468.20" y1="217.20" x2="470.40" y2="217.20" stroke="#111" stroke-width="1.0" />
<line x1="468.20" y1="225.10" x2="470.40" y2="225.10" stroke="#111" stroke-width="1.0" />
<line x1="486.80" y1="237.50" x2="486.80" y2="243.60" stroke="#111" stroke-width="1.0" />
<line x1="485.70" y1="237.50" x2="487.90" y2="237.50" stroke="#111" stroke-width="1.0" />
<line x1="485.70" y1="243.60" x2="487.90" y2="243.60" stroke="#111" stroke-width="1.0" />
<line x1="498.20" y1="229.60" x2="498.20" y2="235.40" stroke="#111" stroke-width="1.0" />
<line x1="497.10" y1="229.60" x2="499.30" y2="229.60" stroke="#111" stroke-width="1.0" />
<line x1="497.10" y1="235.40" x2="499.30" y2="235.40" stroke="#111" stroke-width="1.0" />
<circle cx="463.10" cy="213.95" r="1.15" fill="#151515"/>
<text transform="translate(420.00,248.70) rotate(-90)" x="-0.20" y="0" font-size="9.30" fill="#151515" textLength="36.85" lengthAdjust="spacingAndGlyphs">ΔMFI CCR7</text>
<text x="73.44" y="305.50" font-size="9.59" style="stroke:none" fill="#151515" textLength="41.99" lengthAdjust="spacingAndGlyphs">cDC1-like</text>
<line x1="42.50" y1="311.10" x2="42.50" y2="371.25" stroke="#000" stroke-width="1.0" />
<line x1="42.00" y1="370.75" x2="146.25" y2="370.75" stroke="#000" stroke-width="1.3" />
<line x1="39.70" y1="370.75" x2="42.50" y2="370.75" stroke="#000" stroke-width="1.0" />
<text x="32.98" y="373.45" font-size="7.99" fill="#151515" textLength="4.00" lengthAdjust="spacingAndGlyphs">0</text>
<line x1="39.70" y1="356.50" x2="42.50" y2="356.50" stroke="#000" stroke-width="1.0" />
<text x="33.06" y="359.20" font-size="7.99" fill="#151515" textLength="4.00" lengthAdjust="spacingAndGlyphs">2</text>
<line x1="39.70" y1="342.25" x2="42.50" y2="342.25" stroke="#000" stroke-width="1.0" />
<text x="32.91" y="344.95" font-size="7.99" fill="#151515" textLength="4.00" lengthAdjust="spacingAndGlyphs">4</text>
<line x1="39.70" y1="328.00" x2="42.50" y2="328.00" stroke="#000" stroke-width="1.0" />
<text x="33.01" y="330.70" font-size="7.99" fill="#151515" textLength="4.00" lengthAdjust="spacingAndGlyphs">6</text>
<line x1="39.70" y1="313.75" x2="42.50" y2="313.75" stroke="#000" stroke-width="1.0" />
<text x="33.01" y="316.45" font-size="7.99" fill="#151515" textLength="4.00" lengthAdjust="spacingAndGlyphs">8</text>
<rect x="44.20" y="363.98" width="6.30" height="6.77" fill="#a50f2d"/>
<rect x="52.00" y="363.62" width="6.30" height="7.12" fill="#2b4a7f"/>
<rect x="61.55" y="347.95" width="6.30" height="22.80" fill="#a50f2d"/>
<rect x="69.35" y="346.88" width="6.30" height="23.87" fill="#2b4a7f"/>
<rect x="78.90" y="344.03" width="6.30" height="26.72" fill="#a50f2d"/>
<rect x="86.70" y="344.39" width="6.30" height="26.36" fill="#2b4a7f"/>
<rect x="96.25" y="364.34" width="6.30" height="6.41" fill="#a50f2d"/>
<rect x="104.05" y="362.91" width="6.30" height="7.84" fill="#2b4a7f"/>
<rect x="113.60" y="345.10" width="6.30" height="25.65" fill="#a50f2d"/>
<rect x="121.40" y="343.32" width="6.30" height="27.43" fill="#2b4a7f"/>
<rect x="130.95" y="338.69" width="6.30" height="32.06" fill="#a50f2d"/>
<rect x="138.75" y="340.82" width="6.30" height="29.93" fill="#2b4a7f"/>
<line x1="47.50" y1="363.27" x2="47.50" y2="363.98" stroke="#555" stroke-width="1.0" />
<line x1="45.65" y1="363.47" x2="49.05" y2="363.47" stroke="#222" stroke-width="1.2" />
<line x1="55.50" y1="362.77" x2="55.50" y2="363.62" stroke="#555" stroke-width="1.0" />
<line x1="53.45" y1="362.97" x2="56.85" y2="362.97" stroke="#222" stroke-width="1.2" />
<line x1="64.50" y1="342.54" x2="64.50" y2="347.95" stroke="#555" stroke-width="1.0" />
<line x1="63.00" y1="342.74" x2="66.40" y2="342.74" stroke="#222" stroke-width="1.2" />
<line x1="72.50" y1="340.75" x2="72.50" y2="346.88" stroke="#555" stroke-width="1.0" />
<line x1="70.80" y1="340.95" x2="74.20" y2="340.95" stroke="#222" stroke-width="1.2" />
<line x1="82.50" y1="337.48" x2="82.50" y2="344.03" stroke="#555" stroke-width="1.0" />
<line x1="80.35" y1="337.68" x2="83.75" y2="337.68" stroke="#222" stroke-width="1.2" />
<line x1="89.50" y1="337.48" x2="89.50" y2="344.39" stroke="#555" stroke-width="1.0" />
<line x1="88.15" y1="337.68" x2="91.55" y2="337.68" stroke="#222" stroke-width="1.2" />
<line x1="99.50" y1="363.62" x2="99.50" y2="364.34" stroke="#555" stroke-width="1.0" />
<line x1="97.70" y1="363.82" x2="101.10" y2="363.82" stroke="#222" stroke-width="1.2" />
<line x1="107.50" y1="362.20" x2="107.50" y2="362.91" stroke="#555" stroke-width="1.0" />
<line x1="105.50" y1="362.40" x2="108.90" y2="362.40" stroke="#222" stroke-width="1.2" />
<line x1="116.50" y1="338.26" x2="116.50" y2="345.10" stroke="#555" stroke-width="1.0" />
<line x1="115.05" y1="338.46" x2="118.45" y2="338.46" stroke="#222" stroke-width="1.2" />
<line x1="124.50" y1="333.77" x2="124.50" y2="343.32" stroke="#555" stroke-width="1.0" />
<line x1="122.85" y1="333.97" x2="126.25" y2="333.97" stroke="#222" stroke-width="1.2" />
<line x1="134.50" y1="330.00" x2="134.50" y2="338.69" stroke="#555" stroke-width="1.0" />
<line x1="132.40" y1="330.19" x2="135.80" y2="330.19" stroke="#222" stroke-width="1.2" />
<line x1="141.50" y1="328.78" x2="141.50" y2="340.82" stroke="#555" stroke-width="1.0" />
<line x1="140.20" y1="328.98" x2="143.60" y2="328.98" stroke="#222" stroke-width="1.2" />
<text transform="translate(26.40,368.50) rotate(-90)" x="-0.65" y="0" font-size="8.29" fill="#151515" textLength="58.13" lengthAdjust="spacingAndGlyphs">MFI MHC2 (fold)</text>
<line x1="42.50" y1="392.00" x2="42.50" y2="452.00" stroke="#000" stroke-width="1.0" />
<line x1="42.00" y1="451.50" x2="146.25" y2="451.50" stroke="#000" stroke-width="1.3" />
<line x1="39.70" y1="451.50" x2="42.50" y2="451.50" stroke="#000" stroke-width="1.0" />
<text x="32.98" y="454.20" font-size="7.99" fill="#151515" textLength="4.00" lengthAdjust="spacingAndGlyphs">0</text>
<line x1="39.70" y1="437.30" x2="42.50" y2="437.30" stroke="#000" stroke-width="1.0" />
<text x="33.00" y="440.00" font-size="7.99" fill="#151515" textLength="4.00" lengthAdjust="spacingAndGlyphs">5</text>
<line x1="39.70" y1="423.10" x2="42.50" y2="423.10" stroke="#000" stroke-width="1.0" />
<text x="28.98" y="425.80" font-size="7.99" fill="#151515" textLength="8.00" lengthAdjust="spacingAndGlyphs">10</text>
<line x1="39.70" y1="408.90" x2="42.50" y2="408.90" stroke="#000" stroke-width="1.0" />
<text x="29.00" y="411.60" font-size="7.99" fill="#151515" textLength="8.00" lengthAdjust="spacingAndGlyphs">15</text>
<line x1="39.70" y1="394.70" x2="42.50" y2="394.70" stroke="#000" stroke-width="1.0" />
<text x="28.98" y="397.40" font-size="7.99" fill="#151515" textLength="8.00" lengthAdjust="spacingAndGlyphs">20</text>
<rect x="44.20" y="449.23" width="6.30" height="2.27" fill="#a50f2d"/>
<rect x="52.00" y="448.49" width="6.30" height="3.01" fill="#2b4a7f"/>
<rect x="61.55" y="423.50" width="6.30" height="28.00" fill="#a50f2d"/>
<rect x="69.35" y="421.68" width="6.30" height="29.82" fill="#2b4a7f"/>
<rect x="78.90" y="417.25" width="6.30" height="34.25" fill="#a50f2d"/>
<rect x="86.70" y="419.01" width="6.30" height="32.49" fill="#2b4a7f"/>
<rect x="96.25" y="449.51" width="6.30" height="1.99" fill="#a50f2d"/>
<rect x="104.05" y="448.75" width="6.30" height="2.75" fill="#2b4a7f"/>
<rect x="113.60" y="420.54" width="6.30" height="30.96" fill="#a50f2d"/>
<rect x="121.40" y="422.82" width="6.30" height="28.68" fill="#2b4a7f"/>
<rect x="130.95" y="416.99" width="6.30" height="34.51" fill="#a50f2d"/>
<rect x="138.75" y="414.86" width="6.30" height="36.64" fill="#2b4a7f"/>
<line x1="47.50" y1="448.80" x2="47.50" y2="449.23" stroke="#555" stroke-width="1.0" />
<line x1="45.65" y1="449.00" x2="49.05" y2="449.00" stroke="#222" stroke-width="1.2" />
<line x1="55.50" y1="447.81" x2="55.50" y2="448.49" stroke="#555" stroke-width="1.0" />
<line x1="53.45" y1="448.01" x2="56.85" y2="448.01" stroke="#222" stroke-width="1.2" />
<line x1="64.50" y1="416.00" x2="64.50" y2="423.50" stroke="#555" stroke-width="1.0" />
<line x1="63.00" y1="416.20" x2="66.40" y2="416.20" stroke="#222" stroke-width="1.2" />
<line x1="72.50" y1="412.31" x2="72.50" y2="421.68" stroke="#555" stroke-width="1.0" />
<line x1="70.80" y1="412.51" x2="74.20" y2="412.51" stroke="#222" stroke-width="1.2" />
<line x1="82.50" y1="407.76" x2="82.50" y2="417.25" stroke="#555" stroke-width="1.0" />
<line x1="80.35" y1="407.96" x2="83.75" y2="407.96" stroke="#222" stroke-width="1.2" />
<line x1="89.50" y1="409.47" x2="89.50" y2="419.01" stroke="#555" stroke-width="1.0" />
<line x1="88.15" y1="409.67" x2="91.55" y2="409.67" stroke="#222" stroke-width="1.2" />
<line x1="107.50" y1="448.09" x2="107.50" y2="448.75" stroke="#555" stroke-width="1.0" />
<line x1="105.50" y1="448.29" x2="108.90" y2="448.29" stroke="#222" stroke-width="1.2" />
<line x1="116.50" y1="410.60" x2="116.50" y2="420.54" stroke="#555" stroke-width="1.0" />
<line x1="115.05" y1="410.80" x2="118.45" y2="410.80" stroke="#222" stroke-width="1.2" />
<line x1="124.50" y1="408.62" x2="124.50" y2="422.82" stroke="#555" stroke-width="1.0" />
<line x1="122.85" y1="408.82" x2="126.25" y2="408.82" stroke="#222" stroke-width="1.2" />
<line x1="134.50" y1="405.21" x2="134.50" y2="416.99" stroke="#555" stroke-width="1.0" />
<line x1="132.40" y1="405.41" x2="135.80" y2="405.41" stroke="#222" stroke-width="1.2" />
<line x1="141.50" y1="398.25" x2="141.50" y2="414.86" stroke="#555" stroke-width="1.0" />
<line x1="140.20" y1="398.45" x2="143.60" y2="398.45" stroke="#222" stroke-width="1.2" />
<text transform="translate(24.30,447.80) rotate(-90)" x="-0.63" y="0" font-size="8.43" fill="#151515" textLength="54.50" lengthAdjust="spacingAndGlyphs">MFI CD86 (fold)</text>
<line x1="96.05" y1="466.50" x2="144.90" y2="466.50" stroke="#111" stroke-width="1.0" />
<rect x="50.30" y="459.00" width="2.60" height="0.90" fill="#333"/>
<rect x="101.90" y="459.00" width="2.60" height="0.90" fill="#333"/>
<text x="61.28" y="461.50" font-size="8.72" fill="#151515" textLength="14.27" lengthAdjust="spacingAndGlyphs">LPS</text>
<text x="77.14" y="461.50" font-size="8.72" fill="#151515" textLength="17.08" lengthAdjust="spacingAndGlyphs">RNA</text>
<text x="113.41" y="461.50" font-size="8.72" fill="#151515" textLength="13.68" lengthAdjust="spacingAndGlyphs">LPS</text>
<text x="128.73" y="461.50" font-size="8.72" fill="#151515" textLength="17.29" lengthAdjust="spacingAndGlyphs">RNA</text>
<text x="102.52" y="475.80" font-size="8.72" fill="#151515" textLength="36.48" lengthAdjust="spacingAndGlyphs">+ CXCL12</text>
<text x="217.09" y="305.50" font-size="9.59" style="stroke:none" fill="#151515" textLength="42.09" lengthAdjust="spacingAndGlyphs">cDC2-like</text>
<line x1="186.25" y1="311.25" x2="186.25" y2="371.25" stroke="#000" stroke-width="1.0" />
<line x1="185.75" y1="370.75" x2="290.00" y2="370.75" stroke="#000" stroke-width="1.3" />
<line x1="183.45" y1="370.75" x2="186.25" y2="370.75" stroke="#000" stroke-width="1.0" />
<text x="176.73" y="373.45" font-size="7.99" fill="#151515" textLength="4.00" lengthAdjust="spacingAndGlyphs">0</text>
<line x1="183.45" y1="359.35" x2="186.25" y2="359.35" stroke="#000" stroke-width="1.0" />
<text x="176.80" y="362.05" font-size="7.99" fill="#151515" textLength="4.00" lengthAdjust="spacingAndGlyphs">1</text>
<line x1="183.45" y1="347.95" x2="186.25" y2="347.95" stroke="#000" stroke-width="1.0" />
<text x="176.81" y="350.65" font-size="7.99" fill="#151515" textLength="4.00" lengthAdjust="spacingAndGlyphs">2</text>
<line x1="183.45" y1="336.55" x2="186.25" y2="336.55" stroke="#000" stroke-width="1.0" />
<text x="176.76" y="339.25" font-size="7.99" fill="#151515" textLength="4.00" lengthAdjust="spacingAndGlyphs">3</text>
<line x1="183.45" y1="325.15" x2="186.25" y2="325.15" stroke="#000" stroke-width="1.0" />
<text x="176.66" y="327.85" font-size="7.99" fill="#151515" textLength="4.00" lengthAdjust="spacingAndGlyphs">4</text>
<line x1="183.45" y1="313.75" x2="186.25" y2="313.75" stroke="#000" stroke-width="1.0" />
<text x="176.75" y="316.45" font-size="7.99" fill="#151515" textLength="4.00" lengthAdjust="spacingAndGlyphs">5</text>
<rect x="187.95" y="359.46" width="6.30" height="11.29" fill="#a50f2d"/>
<rect x="195.75" y="360.95" width="6.30" height="9.80" fill="#2b4a7f"/>
<rect x="205.30" y="347.49" width="6.30" height="23.26" fill="#a50f2d"/>
<rect x="213.10" y="345.78" width="6.30" height="24.97" fill="#2b4a7f"/>
<rect x="222.65" y="345.78" width="6.30" height="24.97" fill="#a50f2d"/>
<rect x="230.45" y="344.53" width="6.30" height="26.22" fill="#2b4a7f"/>
<rect x="240.00" y="359.46" width="6.30" height="11.29" fill="#a50f2d"/>
<rect x="247.80" y="361.74" width="6.30" height="9.01" fill="#2b4a7f"/>
<rect x="257.35" y="344.99" width="6.30" height="25.76" fill="#a50f2d"/>
<rect x="265.15" y="343.28" width="6.30" height="27.47" fill="#2b4a7f"/>
<rect x="274.70" y="341.79" width="6.30" height="28.96" fill="#a50f2d"/>
<rect x="282.50" y="339.51" width="6.30" height="31.24" fill="#2b4a7f"/>
<line x1="191.50" y1="358.78" x2="191.50" y2="359.46" stroke="#555" stroke-width="1.0" />
<line x1="189.40" y1="358.98" x2="192.80" y2="358.98" stroke="#222" stroke-width="1.2" />
<line x1="198.50" y1="359.58" x2="198.50" y2="360.95" stroke="#555" stroke-width="1.0" />
<line x1="197.20" y1="359.78" x2="200.60" y2="359.78" stroke="#222" stroke-width="1.2" />
<line x1="208.50" y1="340.77" x2="208.50" y2="347.49" stroke="#555" stroke-width="1.0" />
<line x1="206.75" y1="340.97" x2="210.15" y2="340.97" stroke="#222" stroke-width="1.2" />
<line x1="216.50" y1="337.01" x2="216.50" y2="345.78" stroke="#555" stroke-width="1.0" />
<line x1="214.55" y1="337.21" x2="217.95" y2="337.21" stroke="#222" stroke-width="1.2" />
<line x1="225.50" y1="338.83" x2="225.50" y2="345.78" stroke="#555" stroke-width="1.0" />
<line x1="224.10" y1="339.03" x2="227.50" y2="339.03" stroke="#222" stroke-width="1.2" />
<line x1="233.50" y1="335.52" x2="233.50" y2="344.53" stroke="#555" stroke-width="1.0" />
<line x1="231.90" y1="335.72" x2="235.30" y2="335.72" stroke="#222" stroke-width="1.2" />
<line x1="243.50" y1="358.44" x2="243.50" y2="359.46" stroke="#555" stroke-width="1.0" />
<line x1="241.45" y1="358.64" x2="244.85" y2="358.64" stroke="#222" stroke-width="1.2" />
<line x1="250.50" y1="360.26" x2="250.50" y2="361.74" stroke="#555" stroke-width="1.0" />
<line x1="249.25" y1="360.46" x2="252.65" y2="360.46" stroke="#222" stroke-width="1.2" />
<line x1="260.50" y1="336.21" x2="260.50" y2="344.99" stroke="#555" stroke-width="1.0" />
<line x1="258.80" y1="336.41" x2="262.20" y2="336.41" stroke="#222" stroke-width="1.2" />
<line x1="268.50" y1="329.48" x2="268.50" y2="343.28" stroke="#555" stroke-width="1.0" />
<line x1="266.60" y1="329.68" x2="270.00" y2="329.68" stroke="#222" stroke-width="1.2" />
<line x1="277.50" y1="330.74" x2="277.50" y2="341.79" stroke="#555" stroke-width="1.0" />
<line x1="276.15" y1="330.94" x2="279.55" y2="330.94" stroke="#222" stroke-width="1.2" />
<line x1="285.50" y1="324.24" x2="285.50" y2="339.51" stroke="#555" stroke-width="1.0" />
<line x1="283.95" y1="324.44" x2="287.35" y2="324.44" stroke="#222" stroke-width="1.2" />
<text transform="translate(172.30,368.50) rotate(-90)" x="-0.65" y="0" font-size="8.43" fill="#151515" textLength="58.13" lengthAdjust="spacingAndGlyphs">MFI MHC2 (fold)</text>
<line x1="186.25" y1="392.00" x2="186.25" y2="452.00" stroke="#000" stroke-width="1.0" />
<line x1="185.75" y1="451.50" x2="290.00" y2="451.50" stroke="#000" stroke-width="1.3" />
<line x1="183.45" y1="451.50" x2="186.25" y2="451.50" stroke="#000" stroke-width="1.0" />
<text x="176.73" y="454.20" font-size="7.99" fill="#151515" textLength="4.00" lengthAdjust="spacingAndGlyphs">0</text>
<line x1="183.45" y1="437.32" x2="186.25" y2="437.32" stroke="#000" stroke-width="1.0" />
<text x="176.81" y="440.02" font-size="7.99" fill="#151515" textLength="4.00" lengthAdjust="spacingAndGlyphs">2</text>
<line x1="183.45" y1="423.14" x2="186.25" y2="423.14" stroke="#000" stroke-width="1.0" />
<text x="176.66" y="425.84" font-size="7.99" fill="#151515" textLength="4.00" lengthAdjust="spacingAndGlyphs">4</text>
<line x1="183.45" y1="408.96" x2="186.25" y2="408.96" stroke="#000" stroke-width="1.0" />
<text x="176.76" y="411.66" font-size="7.99" fill="#151515" textLength="4.00" lengthAdjust="spacingAndGlyphs">6</text>
<line x1="183.45" y1="394.78" x2="186.25" y2="394.78" stroke="#000" stroke-width="1.0" />
<text x="176.76" y="397.48" font-size="7.99" fill="#151515" textLength="4.00" lengthAdjust="spacingAndGlyphs">8</text>
<rect x="187.95" y="444.48" width="6.30" height="7.02" fill="#a50f2d"/>
<rect x="195.75" y="443.98" width="6.30" height="7.52" fill="#2b4a7f"/>
<rect x="205.30" y="425.76" width="6.30" height="25.74" fill="#a50f2d"/>
<rect x="213.10" y="419.03" width="6.30" height="32.47" fill="#2b4a7f"/>
<rect x="222.65" y="420.52" width="6.30" height="30.98" fill="#a50f2d"/>
<rect x="230.45" y="416.76" width="6.30" height="34.74" fill="#2b4a7f"/>
<rect x="240.00" y="444.48" width="6.30" height="7.02" fill="#a50f2d"/>
<rect x="247.80" y="444.76" width="6.30" height="6.74" fill="#2b4a7f"/>
<rect x="257.35" y="423.99" width="6.30" height="27.51" fill="#a50f2d"/>
<rect x="265.15" y="423.28" width="6.30" height="28.22" fill="#2b4a7f"/>
<rect x="274.70" y="420.02" width="6.30" height="31.48" fill="#a50f2d"/>
<rect x="282.50" y="413.99" width="6.30" height="37.51" fill="#2b4a7f"/>
<line x1="191.50" y1="444.06" x2="191.50" y2="444.48" stroke="#555" stroke-width="1.0" />
<line x1="189.40" y1="444.26" x2="192.80" y2="444.26" stroke="#222" stroke-width="1.2" />
<line x1="198.50" y1="442.28" x2="198.50" y2="443.98" stroke="#555" stroke-width="1.0" />
<line x1="197.20" y1="442.48" x2="200.60" y2="442.48" stroke="#222" stroke-width="1.2" />
<line x1="208.50" y1="420.23" x2="208.50" y2="425.76" stroke="#555" stroke-width="1.0" />
<line x1="206.75" y1="420.43" x2="210.15" y2="420.43" stroke="#222" stroke-width="1.2" />
<line x1="216.50" y1="412.01" x2="216.50" y2="419.03" stroke="#555" stroke-width="1.0" />
<line x1="214.55" y1="412.21" x2="217.95" y2="412.21" stroke="#222" stroke-width="1.2" />
<line x1="225.50" y1="412.72" x2="225.50" y2="420.52" stroke="#555" stroke-width="1.0" />
<line x1="224.10" y1="412.92" x2="227.50" y2="412.92" stroke="#222" stroke-width="1.2" />
<line x1="233.50" y1="409.03" x2="233.50" y2="416.76" stroke="#555" stroke-width="1.0" />
<line x1="231.90" y1="409.23" x2="235.30" y2="409.23" stroke="#222" stroke-width="1.2" />
<line x1="243.50" y1="444.06" x2="243.50" y2="444.48" stroke="#555" stroke-width="1.0" />
<line x1="241.45" y1="444.26" x2="244.85" y2="444.26" stroke="#222" stroke-width="1.2" />
<line x1="250.50" y1="442.78" x2="250.50" y2="444.76" stroke="#555" stroke-width="1.0" />
<line x1="249.25" y1="442.98" x2="252.65" y2="442.98" stroke="#222" stroke-width="1.2" />
<line x1="260.50" y1="416.05" x2="260.50" y2="423.99" stroke="#555" stroke-width="1.0" />
<line x1="258.80" y1="416.25" x2="262.20" y2="416.25" stroke="#222" stroke-width="1.2" />
<line x1="268.50" y1="412.22" x2="268.50" y2="423.28" stroke="#555" stroke-width="1.0" />
<line x1="266.60" y1="412.42" x2="270.00" y2="412.42" stroke="#222" stroke-width="1.2" />
<line x1="277.50" y1="409.53" x2="277.50" y2="420.02" stroke="#555" stroke-width="1.0" />
<line x1="276.15" y1="409.73" x2="279.55" y2="409.73" stroke="#222" stroke-width="1.2" />
<line x1="285.50" y1="402.22" x2="285.50" y2="413.99" stroke="#555" stroke-width="1.0" />
<line x1="283.95" y1="402.42" x2="287.35" y2="402.42" stroke="#222" stroke-width="1.2" />
<text transform="translate(172.30,448.20) rotate(-90)" x="-0.63" y="0" font-size="8.43" fill="#151515" textLength="54.91" lengthAdjust="spacingAndGlyphs">MFI CD86 (fold)</text>
<line x1="239.80" y1="466.50" x2="288.65" y2="466.50" stroke="#111" stroke-width="1.0" />
<rect x="194.05" y="459.00" width="2.60" height="0.90" fill="#333"/>
<rect x="245.65" y="459.00" width="2.60" height="0.90" fill="#333"/>
<text x="205.03" y="461.50" font-size="8.72" fill="#151515" textLength="14.27" lengthAdjust="spacingAndGlyphs">LPS</text>
<text x="220.89" y="461.50" font-size="8.72" fill="#151515" textLength="17.08" lengthAdjust="spacingAndGlyphs">RNA</text>
<text x="257.16" y="461.50" font-size="8.72" fill="#151515" textLength="13.68" lengthAdjust="spacingAndGlyphs">LPS</text>
<text x="272.48" y="461.50" font-size="8.72" fill="#151515" textLength="17.29" lengthAdjust="spacingAndGlyphs">RNA</text>
<text x="246.27" y="475.80" font-size="8.72" fill="#151515" textLength="36.48" lengthAdjust="spacingAndGlyphs">+ CXCL12</text>
<rect x="296.25" y="375.30" width="7.60" height="5.60" fill="#a50f2d"/>
<text x="307.07" y="380.90" font-size="8.72" fill="#151515" textLength="11.50" lengthAdjust="spacingAndGlyphs">WT</text>
<rect x="296.25" y="386.30" width="7.60" height="5.60" fill="#2b4a7f"/>
<text x="307.11" y="391.80" font-size="8.72" fill="#151515" textLength="24.38" lengthAdjust="spacingAndGlyphs">+/1013</text>
</svg></body></html>
